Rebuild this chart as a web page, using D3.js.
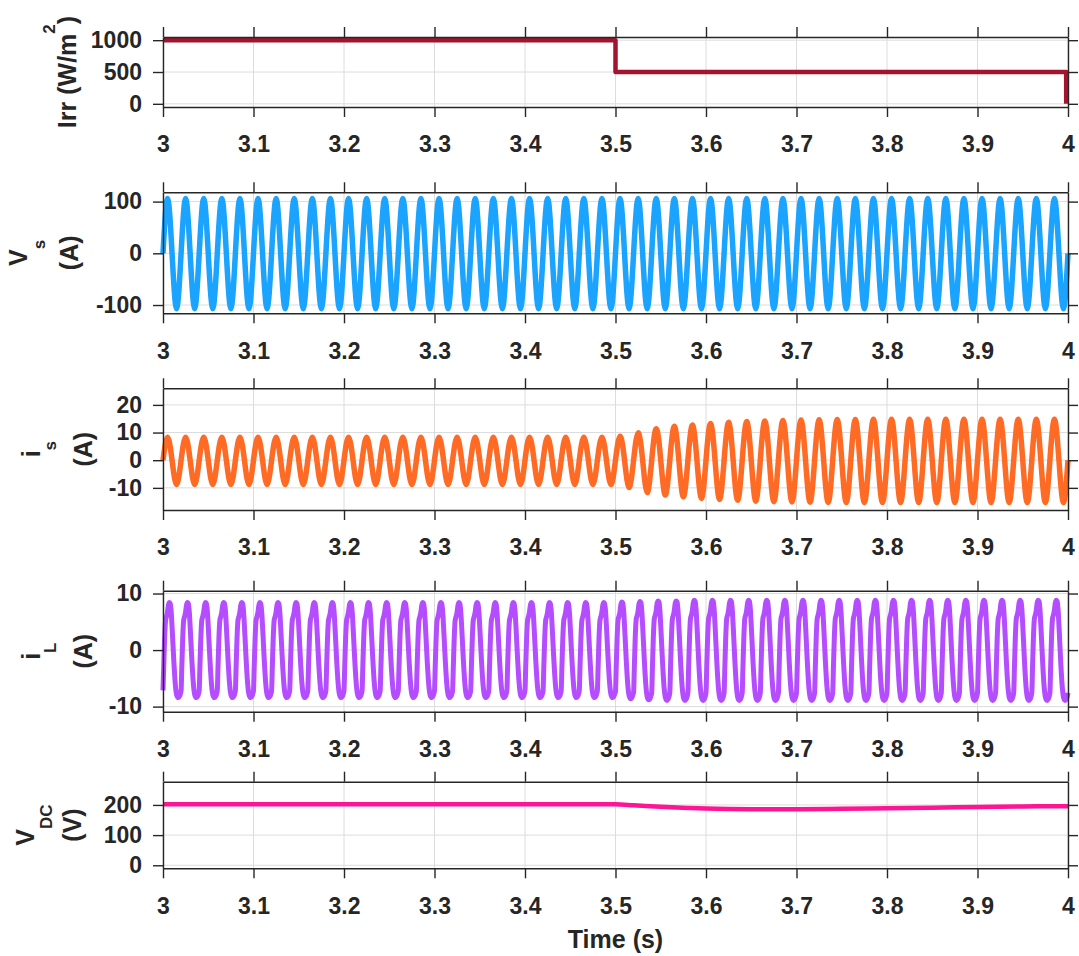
<!DOCTYPE html>
<html>
<head>
<meta charset="utf-8">
<script src="https://cdn.jsdelivr.net/npm/d3@7"></script>
<style>
  body { margin: 0; background: #fff; }
  text { font-family: "Liberation Sans", Arial, sans-serif; font-weight: bold; fill: #262626; }
</style>
</head>
<body>
<div id="chart"></div>
<script>
// time axis
const xTicks = [3, 3.1, 3.2, 3.3, 3.4, 3.5, 3.6, 3.7, 3.8, 3.9, 4];
const xTickLabels = ["3", "3.1", "3.2", "3.3", "3.4", "3.5", "3.6", "3.7", "3.8", "3.9", "4"];

// irradiance step
const irrTime  = [3, 3.5, 3.5, 3.998, 3.998];
const irrValue = [1000, 1000, 500, 500, 0];
const irrTicks = [0, 500, 1000];

// grid frequency 50 Hz -> one cycle is 0.02 s
const cycleSec = 0.02;

// source voltage, one peak / trough per cycle (50 cycles)
const vsPeak = [106,106,106,106,106,106,106,106,106,106,106,106,106,106,106,106,106,106,106,106,106,106,106,106,106,
                106,106,106,106,106,106,106,106,106,106,106,106,106,106,106,106,106,106,106,106,106,106,106,106,106];
const vsTrough = [-107,-107,-107,-107,-107,-107,-107,-107,-107,-107,-107,-107,-107,-107,-107,-107,-107,-107,-107,-107,-107,-107,-107,-107,-107,
                  -107,-107,-107,-107,-107,-107,-107,-107,-107,-107,-107,-107,-107,-107,-107,-107,-107,-107,-107,-107,-107,-107,-107,-107,-107];
const vsTicks = [-100, 0, 100];

// source current
const isPeak = [8.3,8.3,8.3,8.3,8.3,8.3,8.3,8.3,8.3,8.3,8.3,8.3,8.3,8.3,8.3,8.3,8.3,8.3,8.3,8.3,8.3,8.3,8.3,8.3,8.3,
                8.7,9.9,11.4,12.3,12.7,13.3,13.7,14.0,14.2,14.4,14.5,14.6,14.7,14.7,14.8,14.8,14.8,14.8,14.8,14.8,14.8,14.8,14.8,14.8,14.8];
const isTrough = [-8.8,-8.8,-8.8,-8.8,-8.8,-8.8,-8.8,-8.8,-8.8,-8.8,-8.8,-8.8,-8.8,-8.8,-8.8,-8.8,-8.8,-8.8,-8.8,-8.8,-8.8,-8.8,-8.8,-8.8,-8.8,
                  -9.9,-11.7,-12.6,-13.3,-13.8,-14.2,-14.5,-14.8,-15.0,-15.1,-15.2,-15.3,-15.3,-15.3,-15.3,-15.3,-15.3,-15.3,-15.3,-15.3,-15.3,-15.3,-15.3,-15.3,-15.3];
const isTicks = [-10, 0, 10, 20];

// load current (non-linear), peaks per cycle plus one-cycle shape
const iLPeak = [8.4,8.4,8.4,8.4,8.4,8.4,8.4,8.4,8.4,8.4,8.4,8.4,8.4,8.4,8.4,8.4,8.4,8.4,8.4,8.4,8.4,8.4,8.4,8.4,8.4,
                8.5,8.6,8.7,8.7,8.8,8.8,8.8,8.8,8.8,8.8,8.8,8.8,8.8,8.8,8.8,8.8,8.8,8.8,8.8,8.8,8.8,8.8,8.8,8.8,8.8];
const iLTrough = [-8.4,-8.4,-8.4,-8.4,-8.4,-8.4,-8.4,-8.4,-8.4,-8.4,-8.4,-8.4,-8.4,-8.4,-8.4,-8.4,-8.4,-8.4,-8.4,-8.4,-8.4,-8.4,-8.4,-8.4,-8.4,
                  -8.6,-8.8,-8.9,-8.9,-8.9,-8.9,-8.9,-8.9,-8.9,-8.9,-8.9,-8.9,-8.9,-8.9,-8.9,-8.9,-8.9,-8.9,-8.9,-8.9,-8.9,-8.9,-8.9,-8.9,-8.9];
const iLShapePhase = [0, 0.04, 0.09, 0.14, 0.19, 0.24, 0.30, 0.36, 0.40, 0.45, 0.52, 0.60, 0.68, 0.76, 0.84, 0.90, 0.96];
const iLShapeValue = [-0.85, -0.35, 0.25, 0.62, 0.70, 0.78, 0.95, 1.0, 0.98, 0.82, 0.35, -0.25, -0.72, -0.95, -1.0, -0.98, -0.92];
const iLTicks = [-10, 0, 10];

// dc link voltage
const vdcTime  = [3, 3.1, 3.2, 3.3, 3.4, 3.5, 3.52, 3.55, 3.58, 3.6, 3.65, 3.7, 3.75, 3.8, 3.85, 3.9, 3.95, 4];
const vdcValue = [202, 202, 202, 202, 202, 202, 199, 194, 190, 188, 186, 186, 187, 189, 191, 193, 195, 196];
const vdcTicks = [0, 100, 200];

// ---- build point lists from the read values ----
function sineSeries(peaks, troughs) {
    let pts = [];
    peaks.forEach((p, k) => {
        const t0 = 3 + k * cycleSec;
        pts.push([t0, 0], [t0 + cycleSec / 4, p], [t0 + cycleSec / 2, 0], [t0 + 3 * cycleSec / 4, troughs[k]]);
    });
    pts.push([3 + peaks.length * cycleSec, 0]);
    return pts;
}

function shapedSeries(peaks, troughs) {
    let pts = [];
    peaks.forEach((p, k) => {
        const t0 = 3 + k * cycleSec;
        iLShapePhase.forEach((ph, i) => {
            const v = iLShapeValue[i];
            pts.push([t0 + ph * cycleSec, v >= 0 ? v * p : -v * troughs[k]]);
        });
    });
    pts.push([3 + peaks.length * cycleSec, -iLShapeValue[0] * troughs[troughs.length - 1]]);
    return pts;
}

const W = 1079, H = 956;
const left = 163, right = 1068;

// label parts: [text, baseline shift, small?]
const panels = [
    {top: 37, bottom: 107, dom: [-50, 1050], ticks: irrTicks, color: "#a2142f", width: 4.5,
     data: irrTime.map((t, i) => [t, irrValue[i]]), curve: d3.curveLinear,
     label: [{y: 76, parts: [["Irr (W/m", 0, false], ["2", -21, true], [")", 21, false]]}]},
    {top: 192.3, bottom: 313.3, dom: [-116, 118], ticks: vsTicks, color: "#1aa3ff", width: 5.5,
     data: sineSeries(vsPeak, vsTrough), curve: d3.curveNatural,
     label: [{y: 27, parts: [["V", 0, false], ["s", 18, true]]}, {y: 78, parts: [["(A)", 0, false]]}]},
    {top: 388.3, bottom: 510, dom: [-18, 26], ticks: isTicks, color: "#ff6b24", width: 5.5,
     data: sineSeries(isPeak, isTrough), curve: d3.curveNatural,
     label: [{y: 40, parts: [["i", 0, false], ["s", 16, true]]}, {y: 92, parts: [["(A)", 0, false]]}]},
    {top: 590.7, bottom: 711.7, dom: [-10.9, 10.5], ticks: iLTicks, color: "#b44dff", width: 5,
     data: shapedSeries(iLPeak, iLTrough), curve: d3.curveMonotoneX,
     label: [{y: 40, parts: [["i", 0, false], ["L", 16, true]]}, {y: 92, parts: [["(A)", 0, false]]}]},
    {top: 781.7, bottom: 868.3, dom: [-10, 277], ticks: vdcTicks, color: "#ff1493", width: 4.5,
     data: vdcTime.map((t, i) => [t, vdcValue[i]]), curve: d3.curveMonotoneX,
     label: [{y: 34, parts: [["V", 0, false], ["DC", 18, true]]}, {y: 81, parts: [["(V)", 0, false]]}]}
];

const svg = d3.select("#chart").append("svg")
    .attr("width", W).attr("height", H)
    .style("background-color", "white");

const x = d3.scaleLinear().domain([3, 4]).range([left, right]);

const axisColor = "#262626";

panels.forEach(p => {
    const y = d3.scaleLinear().domain(p.dom).range([p.bottom, p.top]);
    const g = svg.append("g");

    // grid
    g.append("g").selectAll("line").data(xTicks).join("line")
        .attr("x1", d => x(d)).attr("x2", d => x(d))
        .attr("y1", p.top).attr("y2", p.bottom)
        .attr("stroke", "#dcdcdc").attr("stroke-width", 1);
    g.append("g").selectAll("line").data(p.ticks).join("line")
        .attr("x1", left).attr("x2", right)
        .attr("y1", d => y(d)).attr("y2", d => y(d))
        .attr("stroke", "#dcdcdc").attr("stroke-width", 1);

    // trace
    g.append("path").datum(p.data)
        .attr("fill", "none")
        .attr("stroke", p.color)
        .attr("stroke-width", p.width)
        .attr("stroke-linejoin", "round")
        .attr("d", d3.line().x(d => x(d[0])).y(d => y(d[1])).curve(p.curve));

    // box with outward ticks on every side
    g.append("g").attr("transform", `translate(0,${p.bottom})`)
        .call(d3.axisBottom(x).tickValues(xTicks).tickFormat((d, i) => xTickLabels[i])
            .tickSize(10).tickSizeOuter(0).tickPadding(19));
    g.append("g").attr("transform", `translate(0,${p.top})`)
        .call(d3.axisTop(x).tickValues(xTicks).tickFormat("").tickSize(10).tickSizeOuter(0));
    g.append("g").attr("transform", `translate(${left},0)`)
        .call(d3.axisLeft(y).tickValues(p.ticks).tickFormat(d => String(d))
            .tickSize(10).tickSizeOuter(0).tickPadding(11));
    g.append("g").attr("transform", `translate(${right},0)`)
        .call(d3.axisRight(y).tickValues(p.ticks).tickFormat("").tickSize(10).tickSizeOuter(0));

    g.selectAll(".domain, .tick line")
        .attr("stroke", axisColor).attr("stroke-width", 1.4);
    g.selectAll(".tick text")
        .attr("font-size", 23)
        .attr("font-family", "Liberation Sans, Arial, sans-serif")
        .attr("font-weight", "bold")
        .attr("fill", axisColor);

    // y label, rotated, one text per line
    const cy = (p.top + p.bottom) / 2;
    const lab = svg.append("g").attr("transform", `translate(0,${cy}) rotate(-90)`);
    p.label.forEach(line => {
        const t = lab.append("text")
            .attr("x", 0).attr("y", line.y)
            .attr("text-anchor", "middle")
            .attr("font-size", 25);
        line.parts.forEach(([s, shift, small]) => {
            const ts = t.append("tspan").text(s);
            if (shift !== 0) ts.attr("dy", shift);
            if (small) ts.attr("font-size", 17);
        });
    });
});

svg.append("text")
    .attr("x", x(3.5)).attr("y", 948)
    .attr("text-anchor", "middle")
    .attr("font-size", 25)
    .text("Time (s)");
</script>
</body>
</html>
